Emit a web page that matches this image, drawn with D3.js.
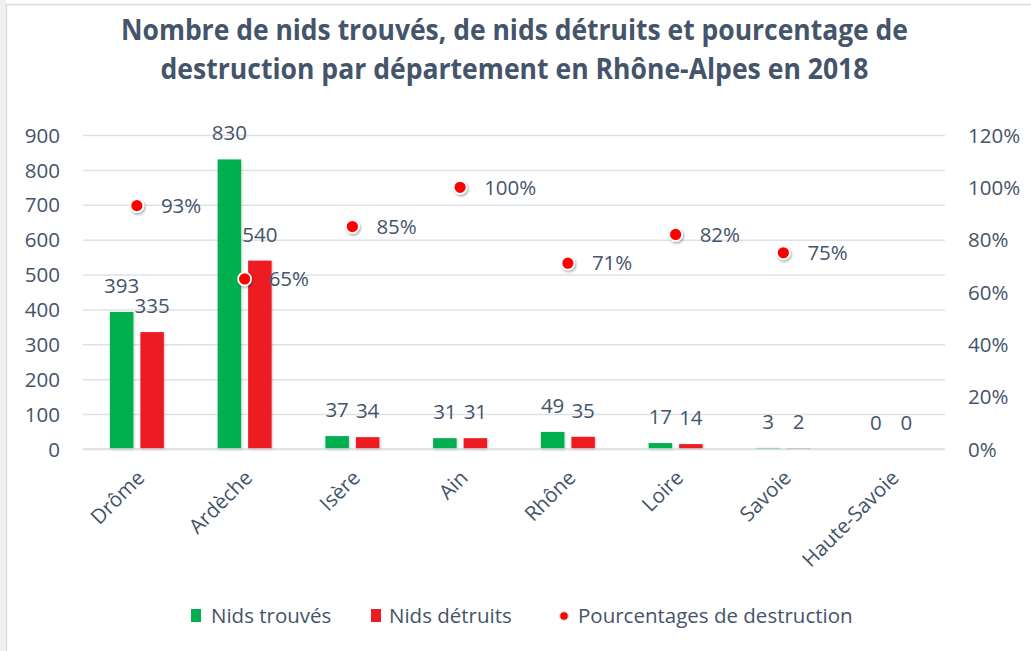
<!DOCTYPE html>
<html><head><meta charset="utf-8">
<script src="https://cdn.jsdelivr.net/npm/d3@7"></script>
<style>
html,body{margin:0;padding:0;background:#fff;}
text{font-family:"Open Sans",sans-serif;fill:#44546A;}
</style></head>
<body>
<svg id="chart" width="1031" height="651"></svg>
<script>
const categories = ["Drôme","Ardèche","Isère","Ain","Rhône","Loire","Savoie","Haute-Savoie"];
const nidsTrouves = [393,830,37,31,49,17,3,0];
const nidsDetruits = [335,540,34,31,35,14,2,0];
const pourcentages = [0.93,0.65,0.85,1.00,0.71,0.82,0.75,null];
const leftTicks = [0,100,200,300,400,500,600,700,800,900];
const rightTicks = [0,0.2,0.4,0.6,0.8,1.0,1.2];
const seriesNames = ["Nids trouvés","Nids détruits","Pourcentages de destruction"];
const titleLines = ["Nombre de nids trouvés, de nids détruits et pourcentage de","destruction par département en Rhône-Alpes en 2018"];

const svg = d3.select("#chart");
const W = 1031, H = 651;
const m = {left:83, right:945, top:135, bottom:449};
const green = "#00B050", red = "#ED1C24", dotRed = "#FF0000";
const FS = 20.5;

const defs = svg.append("defs");
const f = defs.append("filter").attr("id","sh").attr("x","-50%").attr("y","-50%").attr("width","200%").attr("height","200%");
f.append("feDropShadow").attr("dx",1).attr("dy",1.5).attr("stdDeviation",1.3).attr("flood-color","#000").attr("flood-opacity",0.35);
const fb = defs.append("filter").attr("id","shb").attr("x","-20%").attr("y","-20%").attr("width","140%").attr("height","140%");
fb.append("feDropShadow").attr("dx",1).attr("dy",1).attr("stdDeviation",0.8).attr("flood-color","#000").attr("flood-opacity",0.2);

// frame
svg.append("rect").attr("x",0).attr("y",0).attr("width",6).attr("height",H).attr("fill","#F0F0F0");
svg.append("rect").attr("x",6.5).attr("y",4.5).attr("width",W+10).attr("height",H+10)
  .attr("fill","#fff").attr("stroke","#D9DEE6").attr("stroke-width",1.5);

// title
const tWidths = [787, 708];
titleLines.forEach((t,i)=>{
  svg.append("text").attr("x",514.5).attr("y",40 + i*39).attr("text-anchor","middle")
    .attr("font-size",28).attr("font-weight",700)
    .attr("textLength",tWidths[i]).attr("lengthAdjust","spacingAndGlyphs")
    .text(t);
});

const x = d3.scaleBand().domain(categories).range([m.left,m.right]).padding(0);
const y = d3.scaleLinear().domain([0,900]).range([m.bottom,m.top]);
const y2 = d3.scaleLinear().domain([0,1.2]).range([m.bottom,m.top]);

// gridlines
const gGrid = svg.append("g").attr("transform",`translate(${m.left},0)`)
  .call(d3.axisLeft(y).tickValues(leftTicks).tickSize(-(m.right-m.left)).tickFormat(""));
gGrid.select(".domain").remove();
gGrid.selectAll("line").attr("stroke","#DEE2E8").attr("stroke-width",1.5);

// left axis labels
const gL = svg.append("g").attr("transform",`translate(${m.left},0)`)
  .call(d3.axisLeft(y).tickValues(leftTicks).tickSize(0).tickPadding(23).tickFormat(d3.format("d")));
gL.select(".domain").remove();
gL.selectAll("text").attr("font-size",FS).attr("fill","#44546A").attr("font-family","Open Sans").attr("dy","0.35em");

// right axis labels
const gR = svg.append("g").attr("transform",`translate(${m.right},0)`)
  .call(d3.axisRight(y2).tickValues(rightTicks).tickSize(0).tickPadding(23).tickFormat(d3.format(".0%")));
gR.select(".domain").remove();
gR.selectAll("text").attr("font-size",FS).attr("fill","#44546A").attr("font-family","Open Sans").attr("dy","0.35em");

// x axis labels
const gX = svg.append("g").attr("transform",`translate(0,${m.bottom})`)
  .call(d3.axisBottom(x).tickSize(0).tickFormat(d=>d));
gX.select(".domain").remove();
gX.selectAll("text").attr("font-size",FS).attr("fill","#44546A").attr("font-family","Open Sans")
  .attr("text-anchor","end").attr("dy",0).attr("y",0)
  .attr("transform","translate(9,30) rotate(-45)");

// bars
const bw = 23.5, gap = 7;
const data = categories.map((c,i)=>({c, t:nidsTrouves[i], d:nidsDetruits[i], p:pourcentages[i]}));
const cx = c => x(c) + x.bandwidth()/2;
const gB = svg.append("g");
gB.selectAll(".bt").data(data).join("rect").attr("class","bt")
  .attr("x",d=>cx(d.c)-gap/2-bw).attr("width",bw)
  .attr("y",d=>y(d.t)).attr("height",d=>y(0)-y(d.t))
  .attr("fill",green).attr("filter","url(#shb)");
gB.selectAll(".bd").data(data).join("rect").attr("class","bd")
  .attr("x",d=>cx(d.c)+gap/2).attr("width",bw)
  .attr("y",d=>y(d.d)).attr("height",d=>y(0)-y(d.d))
  .attr("fill",red).attr("filter","url(#shb)");

// baseline
svg.append("line").attr("x1",m.left).attr("x2",m.right).attr("y1",y(0)).attr("y2",y(0))
  .attr("stroke","#D9DEE6").attr("stroke-width",1.5);

// bar labels
svg.selectAll(".lt").data(data).join("text").attr("class","lt")
  .attr("x",d=>cx(d.c)-gap/2-bw/2).attr("y",d=>y(d.t)-19)
  .attr("text-anchor","middle").attr("font-size",FS).text(d=>d.t);
svg.selectAll(".ld").data(data).join("text").attr("class","ld")
  .attr("x",d=>cx(d.c)+gap/2+bw/2).attr("y",d=>y(d.d)-19)
  .attr("text-anchor","middle").attr("font-size",FS).text(d=>d.d);

// dots
const pdata = data.filter(d=>d.p!==null);
svg.selectAll(".dot").data(pdata).join("circle").attr("class","dot")
  .attr("cx",d=>cx(d.c)).attr("cy",d=>y2(d.p)).attr("r",6.5)
  .attr("fill",dotRed).attr("stroke","#fff").attr("stroke-width",1.8).attr("filter","url(#sh)");
svg.selectAll(".pl").data(pdata).join("text").attr("class","pl")
  .attr("x",d=>cx(d.c)+24).attr("y",d=>y2(d.p)).attr("dy","0.35em")
  .attr("font-size",FS).text(d=>d3.format(".0%")(d.p));

// legend
const lg = svg.append("g");
const legendY = 616;
lg.append("rect").attr("x",191).attr("y",legendY-7).attr("width",10).attr("height",13).attr("fill",green);
lg.append("text").attr("x",211).attr("y",legendY).attr("dy","0.35em").attr("font-size",FS).text(seriesNames[0]);
lg.append("rect").attr("x",371).attr("y",legendY-7).attr("width",10).attr("height",13).attr("fill",red);
lg.append("text").attr("x",389).attr("y",legendY).attr("dy","0.35em").attr("font-size",FS).text(seriesNames[1]);
lg.append("circle").attr("cx",564).attr("cy",legendY).attr("r",4.5).attr("fill",dotRed).attr("stroke","#E3E3E3").attr("stroke-width",1.5);
lg.append("text").attr("x",578).attr("y",legendY).attr("dy","0.35em").attr("font-size",FS).text(seriesNames[2]);
</script>
</body></html>
